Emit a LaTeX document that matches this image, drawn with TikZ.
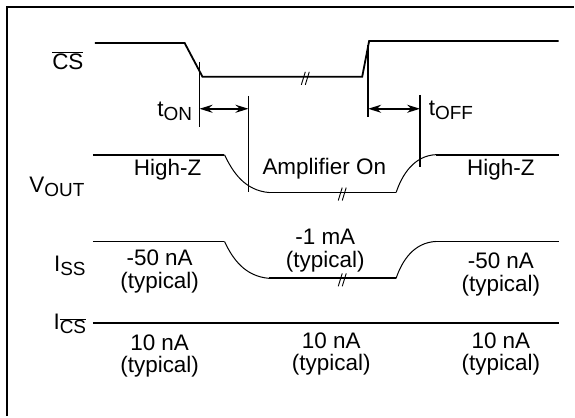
\documentclass[tikz,border=0pt]{standalone}
\usepackage{fontspec}
\setmainfont{Liberation Sans}
\usetikzlibrary{arrows.meta}
\def\breakmark(#1,#2){\draw[line width=0.9pt] ({#1-3},{#2+7}) -- ({#1+1},{#2-6}); \draw[line width=0.9pt] ({#1+1},{#2+7}) -- ({#1+5},{#2-6});}
\newcommand{\lowered}[1]{\raisebox{-4pt}{\fontsize{19}{19}\selectfont #1}}
\tikzset{
	wave/.style={line width=1.8pt},
	curve/.style={line width=1pt},
	bound/.style={line width=1.8pt},
	txt/.style={font=\fontsize{22.5}{22.5}\selectfont, inner sep=0pt, align=center},
	timearrow/.style={line width=1.8pt, {Stealth[length=13pt,width=8pt]}-{Stealth[length=13pt,width=8pt]}}
}

\begin{document}
\begin{tikzpicture}[x=1pt, y=-1pt]
		%%%%% START %%%%%
		
		\fill[white] (0, 0) rectangle (575, 417);
		\draw[line width=2.6pt] (7, 417) -- (7, 7) -- (575, 7);
		
		% chip select
		\draw[wave] (95, 43) -- (185, 43) -- (203, 77) -- (363, 77) -- (370, 41) -- (560, 41);
		\breakmark(305, 78);
		\node[txt] (cs) at (68, 61) {$\overline{\mbox{CS}}$};
		
		% output voltage
		\draw[wave] (93, 155) -- (225, 155);
		\draw[curve] (225, 155) .. controls (233, 172) and (245, 191) .. (270, 193);
		\draw[wave] (270, 193) -- (397, 193);
		\draw[curve] (397, 193) .. controls (403, 175) and (415, 156) .. (437, 155);
		\draw[wave] (437, 155) -- (560, 155);
		\breakmark(342, 194);
		\node[txt] (vout) at (57, 187) {V\lowered{OUT}};
		\node[txt] (hiz1) at (168, 170) {High-Z};
		\node[txt] (ampon) at (325, 169) {Amplifier On};
		\node[txt] (hiz2) at (502, 170) {High-Z};
		
		% timing
		\draw[bound] (200, 62) -- (200, 127);
		\draw[bound] (249, 96) -- (249, 192);
		\draw[bound] (369, 45) -- (369, 117);
		\draw[bound] (421, 95) -- (421, 167);
		\coordinate (on1) at (200, 109);
		\coordinate (on2) at (249, 109);
		\coordinate (off1) at (369, 109);
		\coordinate (off2) at (421, 109);
		\draw[timearrow] (on1) -- (on2);
		\draw[timearrow] (off1) -- (off2);
		\node[txt] (ton) at (175, 112) {t\lowered{ON}};
		\node[txt] (toff) at (452, 111) {t\lowered{OFF}};
		
		% supply current
		\draw[wave] (93, 242) -- (225, 242);
		\draw[curve] (225, 242) .. controls (233, 259) and (245, 277) .. (270, 279);
		\draw[wave] (270, 279) -- (397, 279);
		\draw[curve] (397, 279) .. controls (403, 261) and (415, 243) .. (437, 242);
		\draw[wave] (437, 242) -- (560, 242);
		\breakmark(342, 280);
		\node[txt] (iss) at (70, 266) {I\lowered{SS}};
		\node[txt] (iss1) at (160, 272) {-50 nA\\(typical)};
		\node[txt] (iss2) at (326, 251) {-1 mA\\(typical)};
		\node[txt] (iss3) at (502, 275) {-50 nA\\(typical)};
		
		% chip select current
		\draw[wave] (93, 324) -- (560, 324);
		\node[txt] (ics) at (70, 325) {I\lowered{$\overline{\mbox{CS}}$}};
		\node[txt] (ics1) at (160, 357) {10 nA\\(typical)};
		\node[txt] (ics2) at (332, 355) {10 nA\\(typical)};
		\node[txt] (ics3) at (502, 355) {10 nA\\(typical)};
		
		%%%%% END %%%%%
	\end{tikzpicture}
\end{document}
